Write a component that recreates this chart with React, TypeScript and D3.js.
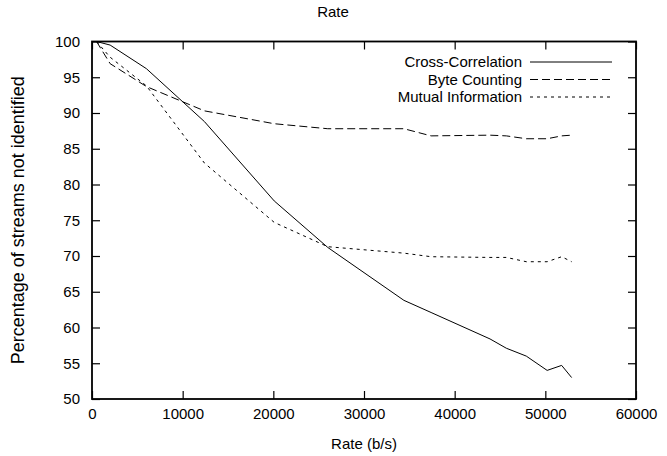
import React, { useEffect, useRef } from "react";
import * as d3 from "d3";

// rates (b/s) at which each method was measured
const rates = [500, 2000, 6000, 12400, 20100, 26000, 34400, 37400, 43900, 45700, 47900, 50200, 51800, 52900];
const crossCorrelation = [100, 99.5, 96.2, 88.8, 77.7, 71.2, 63.8, 62.1, 58.4, 57.1, 56.0, 54.0, 54.7, 53.0];
const byteCounting = [100, 96.9, 93.7, 90.3, 88.5, 87.8, 87.8, 86.8, 86.9, 86.8, 86.4, 86.4, 86.8, 86.9];
const mutualInformation = [100, 97.8, 93.8, 83.0, 74.7, 71.3, 70.4, 69.9, 69.8, 69.8, 69.2, 69.2, 69.9, 69.2];

const seriesNames = ["Cross-Correlation", "Byte Counting", "Mutual Information"];
const xTicks = [0, 10000, 20000, 30000, 40000, 50000, 60000];
const yTicks = [50, 55, 60, 65, 70, 75, 80, 85, 90, 95, 100];

const FONT = "'Liberation Sans', Arial, sans-serif";

export default function App() {
  const ref = useRef<SVGSVGElement>(null);

  useEffect(() => {
    const width = 667;
    const height = 456;
    const margin = { top: 41.5, right: 31, bottom: 57, left: 92 };

    const svg = d3.select(ref.current).attr("width", width).attr("height", height);
    svg.selectAll("*").remove();

    const x = d3.scaleLinear().domain([0, 60000]).range([margin.left, width - margin.right]);
    const y = d3.scaleLinear().domain([50, 100]).range([height - margin.bottom, margin.top]);

    const series = [
      { name: seriesNames[0], values: crossCorrelation, dash: null },
      { name: seriesNames[1], values: byteCounting, dash: "8,4" },
      { name: seriesNames[2], values: mutualInformation, dash: "3,4" },
    ];

    // title
    svg.append("text")
      .attr("x", 333).attr("y", 17)
      .attr("text-anchor", "middle")
      .style("font-family", FONT).style("font-size", "15px")
      .text("Rate");

    // axes, ticks inward and mirrored
    const tickStyle = (g: any) => {
      g.select(".domain").remove();
      g.selectAll("line").attr("stroke", "#000").attr("stroke-width", 1.2);
      g.selectAll("text").style("font-family", FONT).style("font-size", "15px").attr("fill", "#000");
    };

    svg.append("g")
      .attr("transform", `translate(0, ${y(50)})`)
      .call(d3.axisBottom(x).tickValues(xTicks).tickFormat(d3.format("d")).tickSize(-8).tickPadding(9))
      .call(tickStyle);
    svg.append("g")
      .attr("transform", `translate(0, ${y(100)})`)
      .call(d3.axisTop(x).tickValues(xTicks).tickFormat(() => "").tickSize(-8))
      .call(tickStyle);
    svg.append("g")
      .attr("transform", `translate(${x(0)}, 0)`)
      .call(d3.axisLeft(y).tickValues(yTicks).tickFormat(d3.format("d")).tickSize(-8).tickPadding(12))
      .call(tickStyle);
    svg.append("g")
      .attr("transform", `translate(${x(60000)}, 0)`)
      .call(d3.axisRight(y).tickValues(yTicks).tickFormat(() => "").tickSize(-8))
      .call(tickStyle);

    // border
    svg.append("rect")
      .attr("x", x(0)).attr("y", y(100))
      .attr("width", x(60000) - x(0)).attr("height", y(50) - y(100))
      .attr("fill", "none").attr("stroke", "#000").attr("stroke-width", 1.8);

    // axis labels
    svg.append("text")
      .attr("x", (x(0) + x(60000)) / 2).attr("y", 449)
      .attr("text-anchor", "middle")
      .style("font-family", FONT).style("font-size", "15px")
      .text("Rate (b/s)");
    svg.append("text")
      .attr("transform", `translate(24, ${(y(50) + y(100)) / 2}) rotate(-90)`)
      .attr("text-anchor", "middle")
      .style("font-family", FONT).style("font-size", "18px")
      .text("Percentage of streams not identified");

    // lines
    const line = d3.line<number>()
      .x((d, i) => x(rates[i]))
      .y((d) => y(d));

    series.forEach((s) => {
      svg.append("path")
        .datum(s.values)
        .attr("d", line)
        .attr("fill", "none")
        .attr("stroke", "#000")
        .attr("stroke-width", 1)
        .attr("stroke-dasharray", s.dash);
    });

    // legend
    const legend = svg.append("g");
    series.forEach((s, i) => {
      const ly = 62 + i * 17.5;
      legend.append("text")
        .attr("x", 522).attr("y", ly + 5)
        .attr("text-anchor", "end")
        .style("font-family", FONT).style("font-size", "15px")
        .text(s.name);
      legend.append("line")
        .attr("x1", 530).attr("x2", 612)
        .attr("y1", ly).attr("y2", ly)
        .attr("stroke", "#000").attr("stroke-width", 1)
        .attr("stroke-dasharray", s.dash);
    });
  }, []);

  return (
    <svg ref={ref} style={{ position: "absolute", left: 0, top: 0, background: "#fff" }}></svg>
  );
}
